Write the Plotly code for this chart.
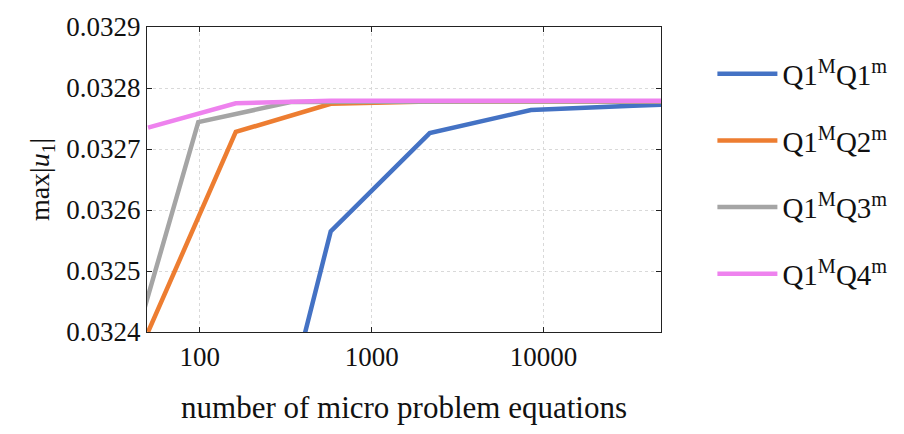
import plotly.graph_objects as go
import numpy as np

# Data (number of micro problem equations vs max|u1|)
x_q1 = [162, 578, 2178, 8450, 33282, 131074]
y_q1 = [0.03195, 0.032565, 0.032726, 0.032764, 0.032771, 0.032777]

x_q2 = [50, 162, 578, 2178, 8450, 33282, 131074]
y_q2 = [0.03240, 0.032728, 0.032774, 0.032778, 0.032778, 0.032778, 0.032778]

x_q3 = [32, 98, 338, 1250, 4802, 18818, 74498]
y_q3 = [0.03227, 0.032744, 0.032777, 0.032778, 0.032778, 0.032778, 0.032778]

x_q4 = [50, 162, 578, 2178, 8450, 33282, 131074]
y_q4 = [0.032735, 0.032775, 0.032779, 0.032779, 0.032779, 0.032779, 0.032779]

names = ["Q1<sup>M</sup>Q1<sup>m</sup>", "Q1<sup>M</sup>Q2<sup>m</sup>",
         "Q1<sup>M</sup>Q3<sup>m</sup>", "Q1<sup>M</sup>Q4<sup>m</sup>"]
colors = ["#4472C4", "#ED7D31", "#A5A5A5", "#EE82EE"]

x_ticks = [100, 1000, 10000]
x_tick_labels = ["100", "1000", "10000"]
y_ticks = [0.0324, 0.0325, 0.0326, 0.0327, 0.0328, 0.0329]

FONT = "Liberation Serif"

fig = go.Figure()
for i, (xs, ys) in enumerate([(x_q1, y_q1), (x_q2, y_q2), (x_q3, y_q3), (x_q4, y_q4)]):
    fig.add_trace(go.Scatter(x=xs, y=ys, mode="lines", name=names[i],
                             line=dict(color=colors[i], width=4.5),
                             legendgroup=f"g{i}"))

fig.update_layout(
    width=904, height=434,
    margin=dict(l=147, r=241, t=14, b=102),
    paper_bgcolor="white", plot_bgcolor="white",
    font=dict(family=FONT, size=27, color="#111"),
    legend=dict(x=1.1, y=0.93, xanchor="left", yanchor="top",
                tracegroupgap=26, itemwidth=60,
                font=dict(family=FONT, size=29, color="#111")),
    showlegend=True,
)
fig.update_xaxes(type="log", range=[np.log10(49.3), np.log10(48300)],
                 tickvals=x_ticks, ticktext=x_tick_labels,
                 tickfont=dict(family=FONT, size=27, color="#111"),
                 ticklabeloverflow="allow",
                 showline=True, linecolor="#222", linewidth=1.2, mirror="ticks",
                 ticks="inside", ticklen=5, tickcolor="#222",
                 showgrid=True, gridcolor="#d9d9d9", griddash="dot", gridwidth=1,
                 zeroline=False,
                 title=dict(text="number of micro problem equations", standoff=25,
                            font=dict(family=FONT, size=31, color="#111")))
fig.update_yaxes(range=[0.0324, 0.0329], tickvals=y_ticks,
                 tickformat=".4f",
                 tickfont=dict(family=FONT, size=27, color="#111"),
                 ticklabeloverflow="allow",
                 showline=True, linecolor="#222", linewidth=1.2, mirror="ticks",
                 ticks="inside", ticklen=5, tickcolor="#222",
                 showgrid=True, gridcolor="#d9d9d9", griddash="dot", gridwidth=1,
                 zeroline=False,
                 title=dict(text="max|<i>u</i><sub>1</sub>|", standoff=8,
                            font=dict(family=FONT, size=28, color="#111")))

fig.write_html("out.html")
